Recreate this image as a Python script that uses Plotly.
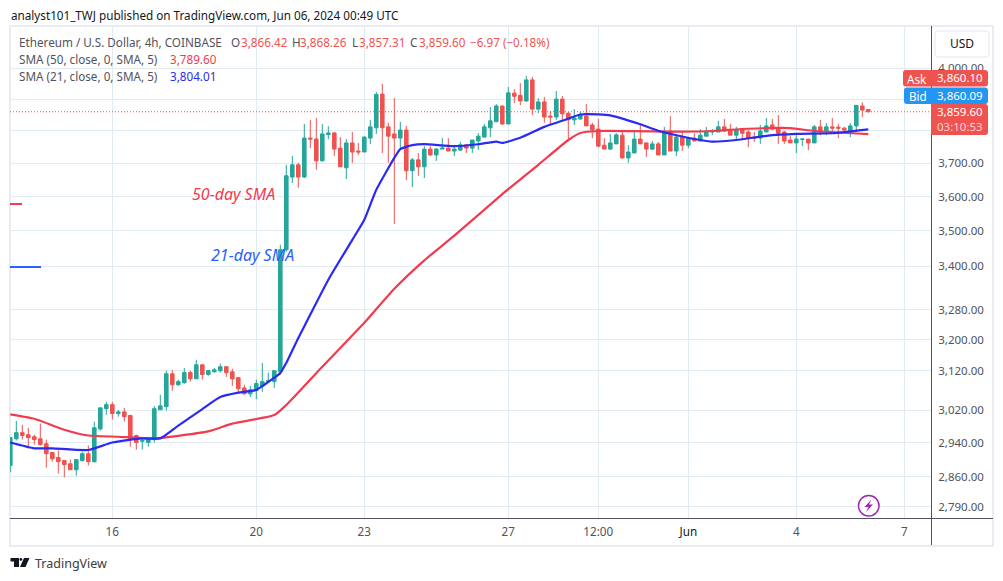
import pandas as pd
import plotly.graph_objects as go

W, H = 1003, 581
FONT = "Noto Sans"
UP, DOWN = "#26a69a", "#ef5350"
INK, MUTED = "#131722", "#50535e"
GRID, FRAME = "#e1ecf2", "#e9ecf3"

# 4h ETH/USD bars, oldest first
opens = [2886,2950,2965,2960,2955,2950,2938,2917,2905,2898,2890,2876,2898,2914,2895,2974,3024,3034,3012,3016,
         3007,2958,2944,2941,2948,3021,3029,3112,3084,3089,3115,3099,3135,3110,3117,3120,3130,3117,3102,3076,
         3061,3069,3081,3092,3092,3117,3446,3658,3695,3658,3777,3774,3707,3788,3793,3746,3686,3762,3737,3734,
         3777,3809,3916,3812,3790,3777,3802,3677,3710,3689,3743,3725,3743,3746,3737,3740,3756,3746,3768,3780,
         3809,3828,3878,3821,3919,3912,3894,3962,3868,3891,3846,3843,3900,3855,3834,3837,3846,3818,3805,3755,
         3743,3759,3786,3716,3731,3774,3762,3743,3759,3725,3799,3737,3780,3755,3777,3768,3783,3796,3796,3812,
         3802,3786,3805,3796,3780,3777,3796,3818,3808,3796,3771,3762,3773,3774,3762,3812,3799,3812,3811,3808,
         3799,3815,3878,3866.42]
highs = [2954,2994,2984,2977,2960,2987,2948,2917,2922,2898,2900,2900,2919,2934,2992,3026,3041,3041,3021,3026,
         3009,2960,2950,2955,3031,3059,3120,3122,3097,3127,3120,3148,3135,3122,3127,3138,3130,3125,3104,3084,
         3081,3097,3140,3115,3120,3460,3695,3722,3701,3821,3834,3840,3821,3814,3796,3780,3774,3796,3762,3783,
         3834,3923,3949,3825,3903,3828,3815,3716,3731,3752,3752,3746,3777,3777,3756,3765,3759,3771,3793,3821,
         3875,3884,3878,3939,3932,3952,3975,3972,3903,3907,3862,3926,3910,3859,3868,3859,3884,3825,3837,3777,
         3790,3792,3799,3755,3796,3821,3762,3768,3765,3812,3846,3786,3796,3780,3792,3805,3812,3805,3831,3837,
         3821,3812,3808,3802,3796,3818,3840,3837,3849,3799,3783,3786,3777,3774,3818,3834,3824,3840,3821,3812,
         3824,3880,3890,3868.26]
lows = [2870,2946,2948,2926,2936,2934,2881,2895,2867,2858,2876,2862,2895,2886,2893,2970,3009,2997,3004,2992,
        2931,2924,2924,2931,2941,3021,3019,3069,3081,3087,3092,3099,3097,3107,3115,3115,3104,3081,3064,3059,
        3053,3048,3066,3089,3076,3110,3440,3640,3626,3655,3746,3680,3705,3774,3722,3689,3652,3701,3725,3734,
        3758,3790,3731,3701,3520,3746,3649,3628,3662,3655,3722,3707,3743,3737,3722,3737,3731,3731,3740,3780,
        3780,3828,3818,3821,3887,3881,3891,3849,3855,3825,3818,3834,3831,3771,3818,3834,3815,3777,3749,3743,
        3740,3759,3713,3701,3731,3759,3719,3740,3725,3725,3737,3722,3737,3746,3768,3768,3783,3786,3796,3796,
        3786,3768,3774,3749,3765,3759,3796,3802,3759,3759,3762,3731,3752,3740,3762,3786,3786,3799,3777,3799,
        3780,3796,3843,3857.31]
closes = [2953,2965,2958,2953,2948,2936,2914,2902,2895,2888,2876,2900,2914,2895,2977,3026,3034,3012,3016,3004,
          2950,2941,2946,2950,3024,3031,3112,3084,3092,3115,3099,3135,3110,3120,3122,3130,3115,3099,3074,3061,
          3071,3087,3092,3094,3120,3446,3662,3695,3658,3777,3774,3707,3790,3793,3743,3689,3762,3734,3734,3780,
          3812,3915,3809,3783,3777,3802,3677,3710,3689,3743,3725,3743,3746,3737,3743,3756,3746,3771,3783,3812,
          3831,3878,3821,3920,3909,3894,3962,3868,3891,3843,3843,3900,3853,3834,3840,3849,3815,3802,3752,3743,
          3762,3787,3716,3734,3774,3759,3743,3759,3725,3799,3737,3780,3755,3777,3768,3786,3796,3799,3812,3799,
          3786,3802,3792,3777,3777,3799,3815,3805,3792,3768,3762,3774,3774,3762,3812,3796,3812,3808,3808,3802,
          3815,3880,3865,3859.60]

# Moving averages, sampled at the listed bar numbers
sma50_bars = [0,4,9,13,18,24,33,37,44,46,52,59,64,69,74,82,88,93,95,98,112,117,123,130,134,143]
sma50 = [3010,2999,2972,2958,2955,2951,2968,2987,3008,3033,3130,3245,3337,3416,3486,3607,3695,3771,
         3793,3799,3797,3799,3806,3808,3799,3789.60]
sma21_bars = [0,4,7,13,17,22,25,28,32,35,38,41,44,45,46,48,50,53,57,59,61,64,65,67,69,74,78,81,82,85,89,92,95,
              98,100,105,108,112,117,121,126,131,137,143]
sma21 = [2941,2927,2927,2923,2941,2951,2951,2982,3023,3053,3064,3071,3102,3114,3140,3205,3267,3362,3474,3532,
         3620,3716,3743,3755,3758,3752,3758,3766,3762,3778,3812,3831,3851,3851,3848,3820,3800,3782,3766,3771,
         3784,3790,3792,3804.01]

price_ticks = [4000,3900,3800,3700,3600,3500,3400,3280,3200,3120,3020,2940,2860,2790]
covered_ticks = [3900,3800]  # sit behind the price tags, so they carry no label
date_ticks = ["2024-05-16","2024-05-20","2024-05-23","2024-05-27","2024-05-29 12:00","2024-06-01","2024-06-04","2024-06-07"]
date_labels = ["16","20","23","27","12:00",f'<span style="color:{INK}">Jun</span>',"4","7"]

times = pd.date_range("2024-05-13 04:00", periods=len(opens), freq="4h")
last_price = closes[-1]


def px(x):
    return x / W


def py(y):
    return 1 - y / H


def path(points, close=True):
    body = "L".join(f"{px(x):.5f},{py(y):.5f}" for x, y in points)
    return "M" + body + ("Z" if close else "")


def rounded(x0, y0, x1, y1, r, left=True, right=True):
    xa, ya, xb, yb = px(x0), py(y0), px(x1), py(y1)
    rx, ry = r / W, r / H
    rl, rr = (rx, ry) if left else (0, 0), (rx, ry) if right else (0, 0)
    return (f"M{xa+rl[0]:.5f},{ya:.5f}L{xb-rr[0]:.5f},{ya:.5f}Q{xb:.5f},{ya:.5f} {xb:.5f},{ya-rr[1]:.5f}"
            f"L{xb:.5f},{yb+rr[1]:.5f}Q{xb:.5f},{yb:.5f} {xb-rr[0]:.5f},{yb:.5f}"
            f"L{xa+rl[0]:.5f},{yb:.5f}Q{xa:.5f},{yb:.5f} {xa:.5f},{yb+rl[1]:.5f}"
            f"L{xa:.5f},{ya-rl[1]:.5f}Q{xa:.5f},{ya:.5f} {xa+rl[0]:.5f},{ya:.5f}Z")


def paper_shape(**kw):
    return dict(xref="paper", yref="paper", **kw)


def label(x, y, text, color=MUTED, size=11.7, anchor="left", italic=False):
    body = f"<i>{text}</i>" if italic else text
    return dict(xref="paper", yref="paper", x=px(x), y=py(y), text=body, showarrow=False,
                xanchor=anchor, yanchor="middle", align=anchor, borderpad=0,
                font=dict(family=FONT, size=size, color=color))


fig = go.Figure()
fig.add_trace(go.Candlestick(
    x=times, open=opens, high=highs, low=lows, close=closes,
    increasing=dict(line=dict(color=UP, width=1), fillcolor=UP),
    decreasing=dict(line=dict(color=DOWN, width=1), fillcolor=DOWN),
    whiskerwidth=0, showlegend=False,
))
fig.add_trace(go.Scatter(x=[times[b] for b in sma50_bars], y=sma50, mode="lines",
                         line=dict(color="#f23b4e", width=2.2, shape="spline", smoothing=0.5), showlegend=False))
fig.add_trace(go.Scatter(x=[times[b] for b in sma21_bars], y=sma21, mode="lines",
                         line=dict(color="#2a2af5", width=2.2, shape="spline", smoothing=0.5), showlegend=False))

shapes = [
    # page frame
    paper_shape(type="rect", x0=px(10), x1=px(993), y0=py(26), y1=py(546),
                line=dict(color=FRAME, width=2), layer="below"),
    # last price
    dict(type="line", xref="paper", yref="y", x0=px(10), x1=px(931), y0=last_price, y1=last_price,
         line=dict(color=DOWN, width=1, dash="1px,2px")),
    # axis separators
    paper_shape(type="line", x0=px(931.5), x1=px(931.5), y0=py(26), y1=py(545),
                line=dict(color=MUTED, width=1)),
    paper_shape(type="line", x0=px(10), x1=px(993), y0=py(518.5), y1=py(518.5),
                line=dict(color=MUTED, width=1)),
    # drawn trend stubs beside the notes
    paper_shape(type="line", x0=px(10), x1=px(22), y0=py(204), y1=py(204), line=dict(color="#f23b4e", width=2)),
    paper_shape(type="line", x0=px(10), x1=px(41), y0=py(267), y1=py(267), line=dict(color="#2962ff", width=2)),
    # currency button
    paper_shape(type="path", path=rounded(935, 31, 989, 57, 4), fillcolor="white",
                line=dict(color="#eceff5", width=1.5)),
    # price tags
    paper_shape(type="path", path=rounded(903, 70, 931, 86.5, 3, right=False), fillcolor=DOWN, line=dict(width=0)),
    paper_shape(type="path", path=rounded(931, 70, 988, 86.5, 3, left=False), fillcolor=DOWN, line=dict(width=0)),
    paper_shape(type="path", path=rounded(904, 87.5, 931, 104, 3, right=False), fillcolor="#2196f3", line=dict(width=0)),
    paper_shape(type="path", path=rounded(931, 87.5, 988, 104, 3, left=False), fillcolor="#2196f3", line=dict(width=0)),
    paper_shape(type="path", path=rounded(931, 104, 988, 135, 3, left=False), fillcolor=DOWN, line=dict(width=0)),
    # lightning badge
    paper_shape(type="circle", x0=px(858.5), x1=px(879), y0=py(495.5), y1=py(516),
                fillcolor="white", line=dict(color="#9c27b0", width=1.5)),
    paper_shape(type="path", path=path([(871.5, 499.5), (864.5, 507), (868.5, 507), (866, 512),
                                        (873, 504.5), (869, 504.5)]), fillcolor="#9c27b0", line=dict(width=0)),
    # footer logo
    paper_shape(type="path", path=path([(10.5, 558), (19, 558), (19, 567), (14, 567), (14, 561.5), (10.5, 561.5)]),
                fillcolor=INK, line=dict(width=0)),
    paper_shape(type="circle", x0=px(19.5), x1=px(22.3), y0=py(558), y1=py(560.8), fillcolor=INK, line=dict(width=0)),
    paper_shape(type="path", path=path([(24, 558), (29.5, 558), (25.5, 567), (20, 567)]),
                fillcolor=INK, line=dict(width=0)),
]

annotations = [
    label(10, 15, "analyst101_TWJ published on TradingView.com, Jun 06, 2024 00:49 UTC", INK),
    label(18, 42, "Ethereum / U.S. Dollar, 4h, COINBASE"),
    label(230, 42, "O"), label(240, 42, "3,866.42", DOWN),
    label(291, 42, "H"), label(299, 42, "3,868.26", DOWN),
    label(351, 42, "L"), label(358, 42, "3,857.31", DOWN),
    label(409, 42, "C"), label(418, 42, "3,859.60", DOWN),
    label(469, 42, "−6.97 (−0.18%)", DOWN),
    label(18, 59, "SMA (50, close, 0, SMA, 5)"), label(169, 59, "3,789.60", "#f23b4e"),
    label(18, 76, "SMA (21, close, 0, SMA, 5)"), label(169, 76, "3,804.01", "#2a2af5"),
    label(233, 194, "50-day SMA", "#f23b4e", 16, "center", True),
    label(252, 255, "21-day SMA", "#2962ff", 16, "center", True),
    label(962, 44, "USD", INK, 12, "center"),
    label(917, 78.5, "Ask", "white", 11.7, "center"),
    label(917.5, 95.5, "Bid", "white", 11.7, "center"),
    label(960, 78, "3,860.10", "white", 11.5, "center"),
    label(960, 95.5, "3,860.09", "white", 11.5, "center"),
    label(960, 112, "3,859.60", "white", 11.5, "center"),
    label(960, 126, "03:10:53", "#fbd0d0", 11.5, "center"),
    label(34, 563, "TradingView", "#3c3c3c", 12.5),
]

fig.update_layout(
    width=W, height=H, autosize=False,
    margin=dict(l=0, r=0, t=0, b=0),
    paper_bgcolor="white", plot_bgcolor="white",
    font=dict(family=FONT, size=12, color=MUTED),
    hovermode=False, boxgap=0.15,
    shapes=shapes, annotations=annotations,
    xaxis=dict(
        domain=[px(10), px(931)], type="date", rangeslider=dict(visible=False),
        range=["2024-05-13 03:48", "2024-06-07 17:48"],
        tickmode="array", tickvals=date_ticks, ticktext=date_labels,
        showgrid=True, gridcolor=GRID, gridwidth=1, zeroline=False, showline=False,
        ticks="outside", ticklen=2, tickcolor="rgba(0,0,0,0)", tickfont=dict(color=MUTED, size=11.7),
    ),
    yaxis=dict(
        domain=[py(518.5), py(27)], type="log", side="right",
        range=[3.44138, 3.61679],
        tickmode="array", tickvals=price_ticks,
        ticktext=["" if p in covered_ticks else f"{p:,.2f}" for p in price_ticks],
        showgrid=True, gridcolor=GRID, gridwidth=1, zeroline=False, showline=False,
        ticks="outside", ticklen=4, tickcolor="rgba(0,0,0,0)", tickfont=dict(color=MUTED, size=11.5),
    ),
)

fig.write_html("out.html")
